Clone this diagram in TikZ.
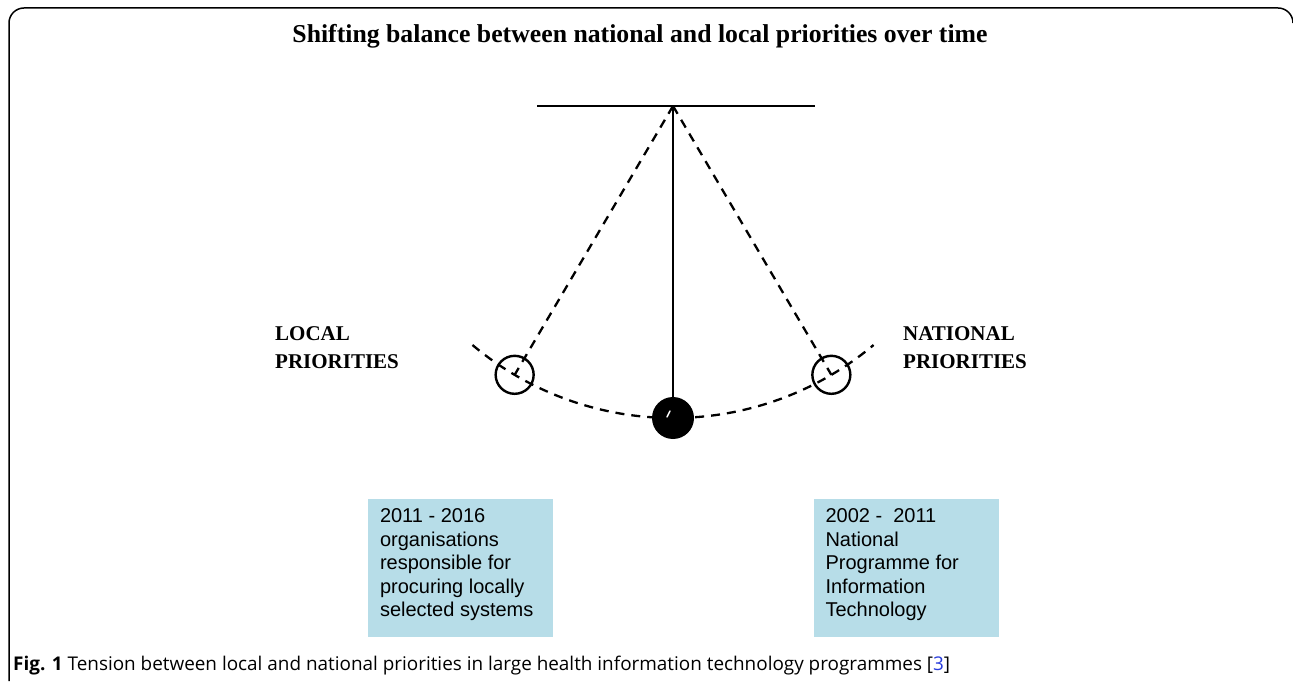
\documentclass[tikz,border=0pt]{standalone}
\usepackage{fontspec}
\setmainfont{Liberation Serif}
\newfontfamily\boxfont{Liberation Sans}
\newfontfamily\capfont{Open Sans}
\usetikzlibrary{calc}
\definecolor{boxblue}{RGB}{183,221,232}
\definecolor{refblue}{RGB}{40,60,220}
\begin{document}
\begin{tikzpicture}[x=1pt,y=1pt,
  frame/.style={line width=1.5pt},
  beam/.style={line width=2.6pt},
  dashline/.style={line width=2.3pt, dash pattern=on 9pt off 7pt},
  bob/.style={circle, draw, line width=2.4pt, minimum size=38pt, inner sep=0pt},
  ball/.style={circle, fill=black, minimum size=42pt, inner sep=0pt},
  label/.style={font=\fontsize{21}{28}\selectfont\bfseries, align=left, inner sep=0pt, anchor=west},
  infobox/.style={fill=boxblue, minimum width=185pt, minimum height=138pt, inner sep=0pt},
  boxtext/.style={font=\boxfont\fontsize{20}{23.5}\selectfont, align=left, inner sep=0pt, anchor=north west}
]
\useasboundingbox (0,0) rectangle (1293,681);
% frame
\draw[frame] (9,0) -- (9,658) arc[start angle=180,end angle=90,radius=15] -- (1278,673) arc[start angle=90,end angle=0,radius=15];
% title
\node[inner sep=0pt] (title) at (640,645) {\resizebox{695pt}{!}{\bfseries Shifting balance between national and local priorities over time}};
% beam
\coordinate (P) at (673,575);
\coordinate (bl) at (537,575);
\coordinate (br) at (815,575);
\draw[beam] (bl) -- (br);
% arc
\coordinate (arcstart) at ($(P)+(230:312)$);
\draw[dashline] (arcstart) arc[start angle=230,end angle=310,radius=312];
% bobs
\node[bob] (L) at ($(P)+(239.5:312)$) {};
\node[bob] (R) at ($(P)+(300.5:312)$) {};
\draw[dashline] (P) -- (L.center);
\draw[dashline] (P) -- (R.center);
\node[ball] (B) at ($(P)+(270:312)$) {};
\draw[beam] (P) -- (B.north);
\draw[white, line width=1.5pt, line cap=round] ($(B.center)+(-6,1)$) -- ($(B.center)+(-3,7)$);
% labels
\node[label] (loc) at (275,333) {LOCAL\\PRIORITIES};
\node[label] (nat) at (903,333) {NATIONAL\\PRIORITIES};
% boxes
\node[infobox] (lb) at (460.5,113) {};
\node[infobox] (rb) at (906,113) {};
\node[boxtext] (lt) at ($(lb.north west)+(12,-10)$) {2011 - 2016\\organisations\\responsible for\\procuring locally\\selected systems};
\node[boxtext] (rt) at ($(rb.north west)+(12,-10)$) {2002 -\ \ 2011\\National\\Programme for\\Information\\Technology};
% caption
\node[inner sep=0pt, anchor=west] (cap) at (13,15) {\resizebox{937pt}{!}{\capfont\fontsize{19}{22}\selectfont\textbf{Fig. 1} Tension between local and national priorities in large health information technology programmes [\textcolor{refblue}{3}]}};
\end{tikzpicture}
\end{document}
